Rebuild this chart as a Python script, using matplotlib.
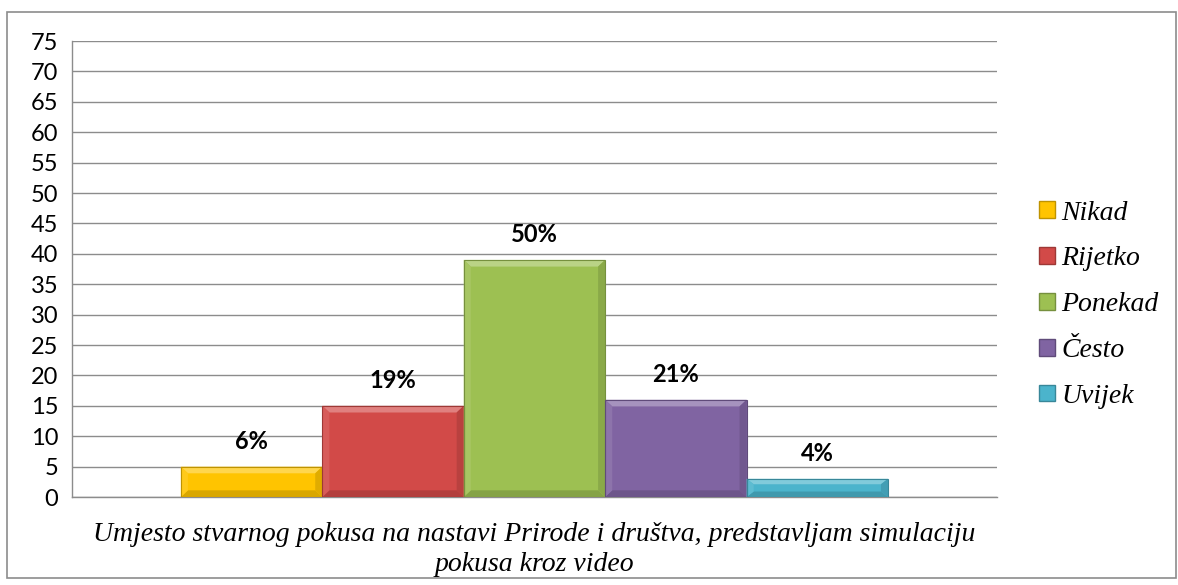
import matplotlib.pyplot as plt
from matplotlib.patches import Polygon, Rectangle
from matplotlib.font_manager import FontProperties
import matplotlib.colors as mcolors

# Podaci s grafikona
kategorije = ['Nikad', 'Rijetko', 'Ponekad', 'Često', 'Uvijek']
vrijednosti = [5, 15, 39, 16, 3]
postoci = ['6%', '19%', '50%', '21%', '4%']
boje = ['#FFC400', '#D24A48', '#9DC052', '#8064A2', '#4BB4CC']
y_ticks = list(range(0, 80, 5))
naslov_x = ('Umjesto stvarnog pokusa na nastavi Prirode i društva, predstavljam simulaciju\n'
            'pokusa kroz video')


def nijansa(boja, faktor):
    r, g, b = mcolors.to_rgb(boja)
    if faktor > 1:
        f = faktor - 1
        return (r + (1 - r) * f, g + (1 - g) * f, b + (1 - b) * f)
    return (r * faktor, g * faktor, b * faktor)


serif_it = FontProperties(family='Liberation Serif', style='italic', size=20)

fig = plt.figure(figsize=(11.78, 5.85), dpi=100)
ax = fig.add_axes([0.0611, 0.1504, 0.7852, 0.7795])

# okvir oko cijele slike
fig.patches.append(Rectangle((0.006, 0.012), 0.992, 0.967, transform=fig.transFigure,
                             fill=False, edgecolor='#8c8c8c', linewidth=1.2))

x = list(range(len(kategorije)))
bars = ax.bar(x, vrijednosti, width=1.0, color=boje, edgecolor='none', zorder=3)

# "bevel" efekt kao u Excelu
bx = 0.05
by = 1.1
for b, boja in zip(bars, boje):
    x0, w, h = b.get_x(), b.get_width(), b.get_height()
    x1 = x0 + w
    d = min(by, h * 0.3)
    ax.add_patch(Polygon([(x0, h), (x1, h), (x1 - bx, h - d), (x0 + bx, h - d)],
                         closed=True, facecolor=nijansa(boja, 1.3), edgecolor='none', zorder=4))
    ax.add_patch(Polygon([(x0, 0), (x1, 0), (x1 - bx, d), (x0 + bx, d)],
                         closed=True, facecolor=nijansa(boja, 0.85), edgecolor='none', zorder=4))
    ax.add_patch(Polygon([(x0, 0), (x0, h), (x0 + bx, h - d), (x0 + bx, d)],
                         closed=True, facecolor=nijansa(boja, 1.1), edgecolor='none', zorder=4))
    ax.add_patch(Polygon([(x1, 0), (x1, h), (x1 - bx, h - d), (x1 - bx, d)],
                         closed=True, facecolor=nijansa(boja, 0.88), edgecolor='none', zorder=4))
    ax.add_patch(Rectangle((x0, 0), w, h, fill=False, edgecolor=nijansa(boja, 0.75),
                           linewidth=0.8, zorder=5))

for xi, v, p in zip(x, vrijednosti, postoci):
    ax.text(xi, v + 4.2, p, ha='center', va='center', fontsize=17, fontweight='bold',
            family='Lato', zorder=6)

ax.set_xlim(-1.27, 5.27)
ax.set_ylim(0, 75)
ax.set_yticks(y_ticks)
ax.set_yticklabels([str(t) for t in y_ticks], family='Lato', fontsize=17)
ax.set_xticks([])
ax.tick_params(axis='y', length=0, pad=10)
ax.grid(axis='y', color='#8c8c8c', linewidth=1.0, zorder=0)
ax.set_axisbelow(True)
for s in ['top', 'right']:
    ax.spines[s].set_visible(False)
ax.spines['left'].set_color('#8c8c8c')
ax.spines['bottom'].set_color('#8c8c8c')
ax.spines['left'].set_linewidth(1.0)
ax.spines['bottom'].set_linewidth(1.0)

ax.set_xlabel(naslov_x, fontproperties=serif_it, labelpad=18, linespacing=1.25)

handles = [Rectangle((0, 0), 1, 1, facecolor=c, edgecolor=nijansa(c, 0.75)) for c in boje]
leg = fig.legend(handles, kategorije, loc='center left', bbox_to_anchor=(0.861, 0.479),
                 frameon=False, handlelength=0.55, handleheight=0.55, handletextpad=0.25,
                 labelspacing=0.75, prop=serif_it)

fig.savefig('out.png', dpi=100)
